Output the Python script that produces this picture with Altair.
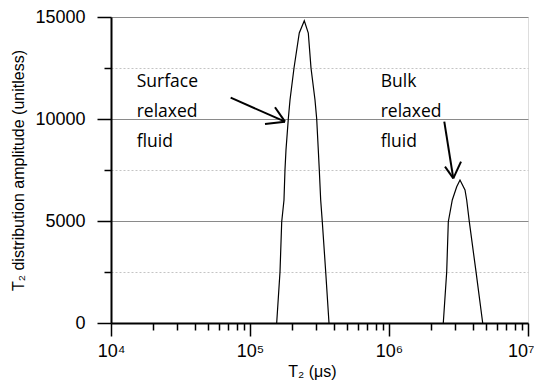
import altair as alt
import pandas as pd

# ---- data ----
surface_t2 = [1.556e5, 1.644e5, 1.691e5, 1.756e5, 1.785e5, 1.815e5, 1.886e5, 1.940e5,
              2.073e5, 2.262e5, 2.458e5, 2.627e5, 2.747e5, 2.935e5, 3.019e5, 3.100e5,
              3.152e5, 3.225e5, 3.312e5, 3.504e5, 3.701e5]
surface_amp = [0, 2515, 4966, 6029, 7500, 8480, 10000, 10931,
               12500, 14216, 14819, 14216, 12500, 10931, 10000, 8480,
               7500, 6029, 4966, 2515, 0]

bulk_t2 = [2.458e6, 2.601e6, 2.671e6, 2.853e6, 3.070e6, 3.242e6, 3.522e6, 3.622e6,
           3.782e6, 4.226e6, 4.722e6]
bulk_amp = [0, 2515, 4966, 6029, 6681, 7010, 6520, 6029, 4966, 2515, 0]

# annotation text (anchor in data units)
surface_label = ["Surface", "relaxed", "fluid"]
bulk_label = ["Bulk", "relaxed", "fluid"]
label_t2 = [1.531e4, 8.714e5]
label_amp = [11554, 10083, 8642]

# arrows: tail, tip, wing1, wing2 (data units)
surface_arrow_t2 = [7.26e4, 1.785e5, 1.282e5, 1.513e5]
surface_arrow_amp = [11044, 9868, 9755, 10574]
bulk_arrow_t2 = [2.499e6, 2.901e6, 2.529e6, 3.296e6]
bulk_arrow_amp = [9868, 7093, 7662, 7907]

x_major = [1e4, 1e5, 1e6, 1e7]
x_minor = [m * 10 ** e for e in (4, 5, 6) for m in range(2, 10)]
y_major = [0, 5000, 10000, 15000]
y_minor = [2500, 7500, 12500]

# ---- tables ----
curves = pd.DataFrame({
    "t2": surface_t2 + bulk_t2,
    "amp": surface_amp + bulk_amp,
    "series": ["surface"] * len(surface_t2) + ["bulk"] * len(bulk_t2),
})

rows = []
for i in range(3):
    rows.append({"t2": label_t2[0], "amp": label_amp[i], "text": surface_label[i]})
    rows.append({"t2": label_t2[1], "amp": label_amp[i], "text": bulk_label[i]})
labels = pd.DataFrame(rows)

segs = []
for xs, ys in ((surface_arrow_t2, surface_arrow_amp), (bulk_arrow_t2, bulk_arrow_amp)):
    for j in (0, 2, 3):
        segs.append({"x": xs[j], "y": ys[j], "x2": xs[1], "y2": ys[1]})
arrows = pd.DataFrame(segs)

xscale = alt.Scale(type="log", domain=[1e4, 1e7])
yscale = alt.Scale(domain=[0, 15000], nice=False)

FONT = "Liberation Sans"
last_x = "datum.value >= 9999999"

x_axis = alt.Axis(
    orient="bottom",
    values=x_major,
    title="T\u2082 (\u03bcs)",
    grid=False,
    labelOverlap=False,
    labelFlush=False,
    labelBound=False,
    labelExpr=(
        "'10' + ({'4':'\u2074','5':'\u2075','6':'\u2076','7':'\u2077'})"
        "['' + round(log(datum.value)/LN10)]"
    ),
    labelAlign={"condition": {"test": last_x, "value": "right"}, "value": "center"},
    labelOffset={"condition": {"test": last_x, "value": 6}, "value": 0},
    tickSize=13,
    tickColor="black",
    tickWidth=1.5,
    domainColor="black",
    domainWidth=2,
    labelFont=FONT,
    labelFontSize=18,
    labelColor="black",
    labelPadding=6,
    titleFont=FONT,
    titleFontSize=16,
    titleFontWeight="normal",
    titleColor="black",
    titlePadding=3,
    titleX=201,
)

x_minor_axis = alt.Axis(
    orient="bottom",
    values=x_minor,
    title=None,
    labels=False,
    grid=False,
    domain=False,
    tickSize=7,
    tickColor="black",
    tickWidth=1.5,
)

y_axis = alt.Axis(
    orient="left",
    values=y_major,
    title="T\u2082 distribution amplitude (unitless)",
    tickSize=14,
    tickColor="black",
    tickWidth=1.5,
    domainColor="black",
    domainWidth=2,
    grid=True,
    gridColor="#8a8a8a",
    gridWidth=1,
    labelFont=FONT,
    labelFontSize=18,
    labelColor="black",
    labelPadding=12,
    labelFlush=False,
    format="d",
    titleFont=FONT,
    titleFontSize=16,
    titleFontWeight="normal",
    titleColor="black",
    titlePadding=8,
)

y_minor_axis = alt.Axis(
    orient="left",
    values=y_minor,
    title=None,
    labels=False,
    domain=False,
    tickSize=7,
    tickColor="black",
    tickWidth=1.5,
    grid=True,
    gridColor="#c4c4c4",
    gridDash=[2, 2],
    gridWidth=1,
)

minor = alt.Chart(curves).mark_point(opacity=0).encode(
    x=alt.X("t2:Q", scale=xscale, axis=x_minor_axis),
    y=alt.Y("amp:Q", scale=yscale, axis=y_minor_axis),
)

lines = alt.Chart(curves).mark_line(color="black", strokeWidth=1.2).encode(
    x=alt.X("t2:Q", scale=xscale, axis=x_axis),
    y=alt.Y("amp:Q", scale=yscale, axis=y_axis),
    detail="series:N",
)

arrow_marks = alt.Chart(arrows).mark_rule(color="black", strokeWidth=2).encode(
    x=alt.X("x:Q", scale=xscale, axis=None),
    y=alt.Y("y:Q", scale=yscale, axis=None),
    x2="x2:Q",
    y2="y2:Q",
)

text_marks = alt.Chart(labels).mark_text(
    align="left", baseline="alphabetic", font="Open Sans", fontSize=17.5, color="black"
).encode(
    x=alt.X("t2:Q", scale=xscale, axis=None),
    y=alt.Y("amp:Q", scale=yscale, axis=None),
    text="text:N",
)

chart = alt.layer(minor, lines, arrow_marks, text_marks).resolve_axis(
    x="independent", y="independent"
).properties(
    width=417,
    height=306,
    autosize=alt.AutoSizeParams(type="none"),
    padding={"left": 103, "top": 9, "right": 6, "bottom": 58},
).configure_view(
    stroke="black", strokeWidth=2
).configure(background="white")

chart.save("out.html", embed_options={"renderer": "svg", "actions": False})
